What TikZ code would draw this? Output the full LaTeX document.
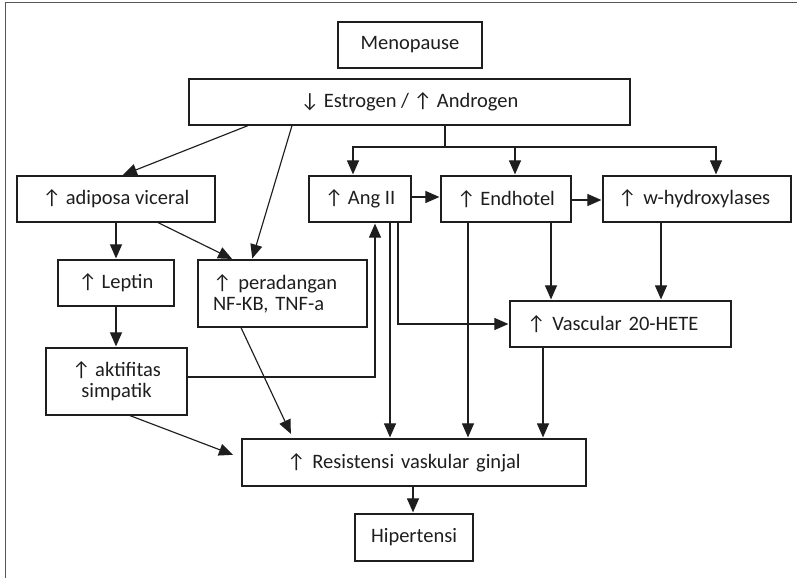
\documentclass[tikz,border=0pt]{standalone}
\usepackage{fontspec}
\setmainfont{Carlito}
\usetikzlibrary{arrows.meta,calc}
\definecolor{ink}{HTML}{1E1E1E}
\definecolor{framegray}{HTML}{555555}
\tikzset{
  box/.style={draw=ink, line width=1.2pt, inner ysep=0pt, font=\fontsize{20.5}{21}\selectfont, text=ink},
  cbox/.style={box, align=center, inner xsep=0pt},
  lbox/.style={box, align=left},
  conn/.style={draw=ink, line width=1.15pt},
  arr/.style={conn, -{Triangle[length=14pt,width=12pt]}, shorten >=1pt},
}
\begin{document}
\begin{tikzpicture}[x=1pt,y=-1pt]
\useasboundingbox (0,0) rectangle (797,578);
% frame (left and top edges)
\draw[framegray, line width=1.4pt] (5.5,578) -- (5.5,2.5) -- (797,2.5);

% boxes
\node[cbox, minimum width=144, minimum height=46] (meno) at (410,45) {Menopause};
\node[cbox, minimum width=441, minimum height=46] (estr) at (409.5,102) {↓ Estrogen / ↑ Androgen};
\node[cbox, minimum width=198, minimum height=46] (adip) at (116,199) {↑ adiposa viceral};
\node[cbox, minimum width=102, minimum height=46] (ang) at (360,199) {↑ Ang II};
\node[cbox, minimum width=130, minimum height=46] (endo) at (506,199) {↑ Endhotel};
\node[lbox, text width=158, inner xsep=15, minimum height=46] (whyd) at (697,199) {↑ w-hydroxylases};
\node[cbox, minimum width=116, minimum height=46] (lept) at (116,283) {↑ Leptin};
\node[lbox, text width=139, inner xsep=15, minimum height=67] (per) at (282.5,293.5) {↑ peradangan\\NF-KB, TNF-a};
\node[lbox, text width=187, inner xsep=17, minimum height=46] (vasc) at (620.5,324) {↑ Vascular 20-HETE};
\node[cbox, minimum width=141, minimum height=67] (akt) at (116.5,381.5) {↑ aktifitas\\simpatik};
\node[lbox, text width=254, inner xsep=45, minimum height=47] (res) at (414,462.5) {↑ Resistensi vaskular ginjal};
\node[cbox, minimum width=118, minimum height=47] (hip) at (414,537.5) {Hipertensi};

% branching from the hormone box
\coordinate (split) at (445,147);
\draw[conn] (445,0 |- estr.south) -- (split);
\draw[arr] (split) -| (353,0 |- ang.north);
\draw[arr] (split) -| (515,0 |- endo.north);
\draw[arr] (split) -| (716,0 |- whyd.north);
\draw[arr] (248,0 |- estr.south) -- (122,0 |- adip.north);
\draw[arr] (292,0 |- estr.south) -- (252,0 |- per.north);

% left column
\draw[arr] (adip.south) -- (adip.south |- lept.north);
\draw[arr] (158,0 |- adip.south) -- (233,0 |- per.north);
\draw[arr] (lept.south) -- (lept.south |- akt.north);
\draw[arr] (akt.east |- 0,377) -| (375,0 |- ang.south);
\draw[arr, shorten >=9pt] (130,0 |- akt.south) -- (res.west |- 0,458);
\draw[arr, shorten >=5pt] (241,0 |- per.south) -- (293,0 |- res.north);

% Ang II / Endhotel / hydroxylases row
\draw[arr] (ang.east |- 0,197) -- (endo.west |- 0,197);
\draw[arr] (endo.east |- 0,200) -- (whyd.west |- 0,200);
\draw[arr] (390,0 |- ang.south) -- (390,0 |- res.north);
\draw[arr] (398,0 |- ang.south) |- (vasc.west);
\draw[arr] (468,0 |- endo.south) -- (468,0 |- res.north);
\draw[arr] (551,0 |- endo.south) -- (551,0 |- vasc.north);
\draw[arr] (661,0 |- whyd.south) -- (661,0 |- vasc.north);
\draw[arr] (543,0 |- vasc.south) -- (543,0 |- res.north);

% outcome
\draw[arr] (413,0 |- res.south) -- (413,0 |- hip.north);
\end{tikzpicture}
\end{document}
